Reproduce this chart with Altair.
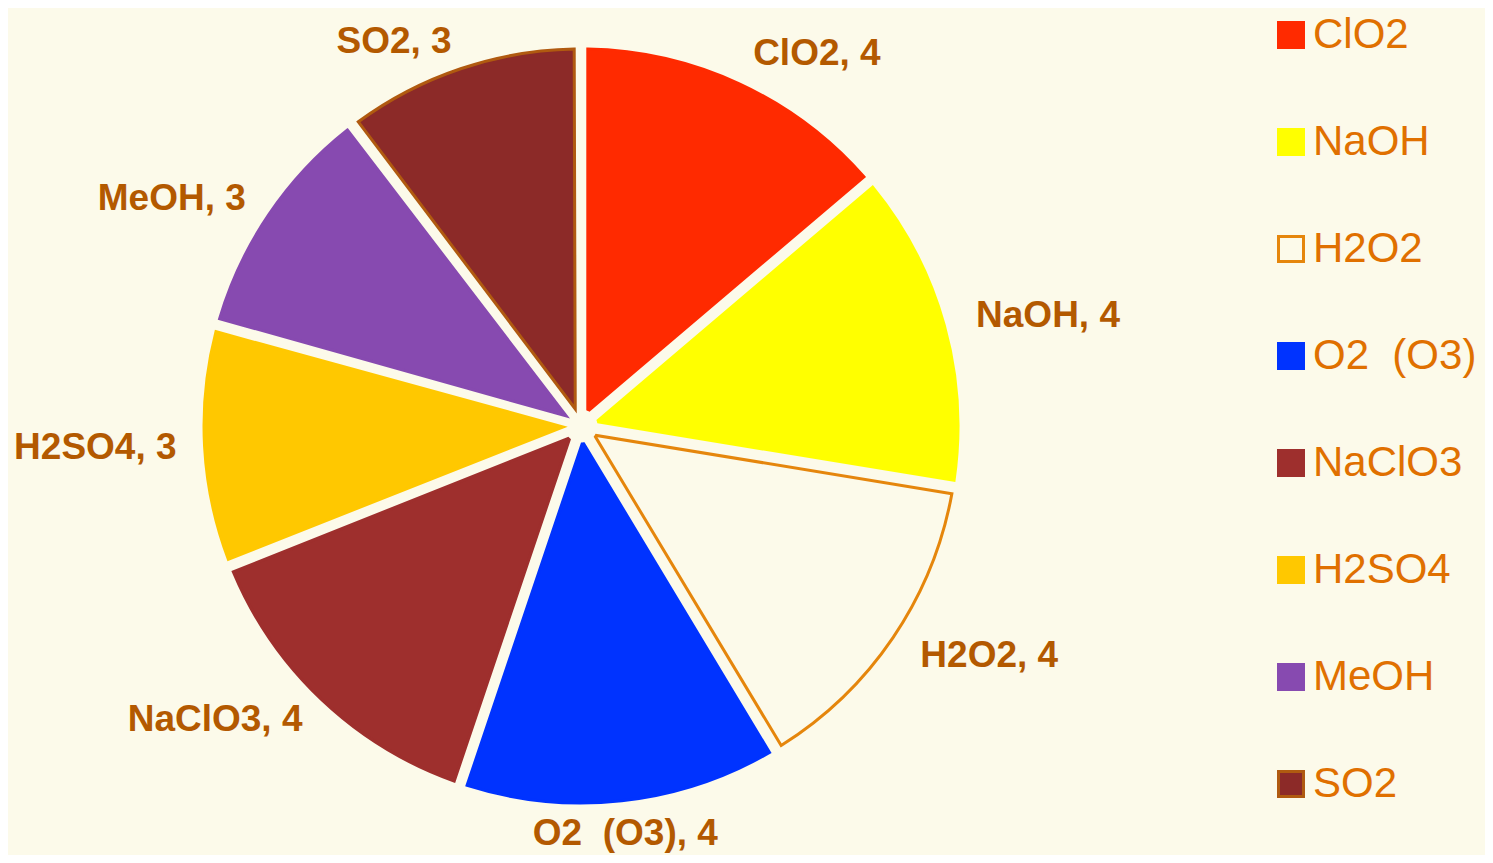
import altair as alt
import pandas as pd

names = ["ClO2", "NaOH", "H2O2", "O2\u00a0\u00a0(O3)", "NaClO3", "H2SO4", "MeOH", "SO2"]
values = [4, 4, 4, 4, 4, 3, 3, 3]
fills = ["#FF2A00", "#FFFF00", "#FCFAEA", "#0033FF", "#9E2F2D", "#FFC800", "#874AB0", "#8C2A28"]
strokes = ["#FF2A00", "#FFFF00", "#E5860C", "#0033FF", "#9E2F2D", "#FFC800", "#874AB0", "#B05A10"]
sides = ["right", "right", "right", "bottom", "left", "left", "left", "left"]

BG = "#FCFAEA"
total = sum(values)

df = pd.DataFrame({"name": names, "value": values, "idx": list(range(len(names))), "side": sides})

cx, cy = 573, 418

fill_scale = alt.Scale(domain=names, range=fills)
stroke_scale = alt.Scale(domain=names, range=strokes)
theta_scale = alt.Scale(domain=[0, total])

base = alt.Chart(df).transform_stack(
    stack="value", groupby=[], as_=["start", "end"], sort=[alt.SortField("idx")]
).transform_calculate(
    mid="(datum.start + datum.end) / 2",
    label="datum.name + ', ' + datum.value",
)

arcs = base.mark_arc(outerRadius=377, innerRadius=18, padAngle=0.036, strokeWidth=3).encode(
    theta=alt.Theta("start:Q", scale=theta_scale),
    theta2="end:Q",
    fill=alt.Fill("name:N", scale=fill_scale, sort=names,
                  legend=alt.Legend(title=None, orient="none", legendX=1262, legendY=6)),
    stroke=alt.Stroke("name:N", scale=stroke_scale, sort=names),
    x=alt.value(cx),
    y=alt.value(cy),
)

def labels(side, align, radius):
    return base.transform_filter(alt.datum.side == side).mark_text(
        radius=radius, align=align, baseline="middle",
        font="Liberation Sans", fontWeight="bold", fontSize=37, color="#B35900",
    ).encode(
        theta=alt.Theta("mid:Q", scale=theta_scale),
        text="label:N",
        x=alt.value(cx),
        y=alt.value(cy),
    )

chart = alt.layer(
    arcs,
    labels("right", "left", 410),
    labels("left", "right", 405),
    labels("bottom", "center", 410),
).properties(
    width=1477, height=847,
    autosize=alt.AutoSizeParams(type="none"),
    padding=0,
    background=BG,
).configure_view(
    stroke=None
).configure_legend(
    symbolType="square",
    symbolSize=625,
    symbolStrokeWidth=3,
    labelFont="Liberation Sans",
    labelFontSize=42,
    labelColor="#E07000",
    labelOffset=1,
    rowPadding=65,
    padding=0,
    labelLimit=400,
)

chart.save("out.html", embed_options={"renderer": "svg", "actions": False})
